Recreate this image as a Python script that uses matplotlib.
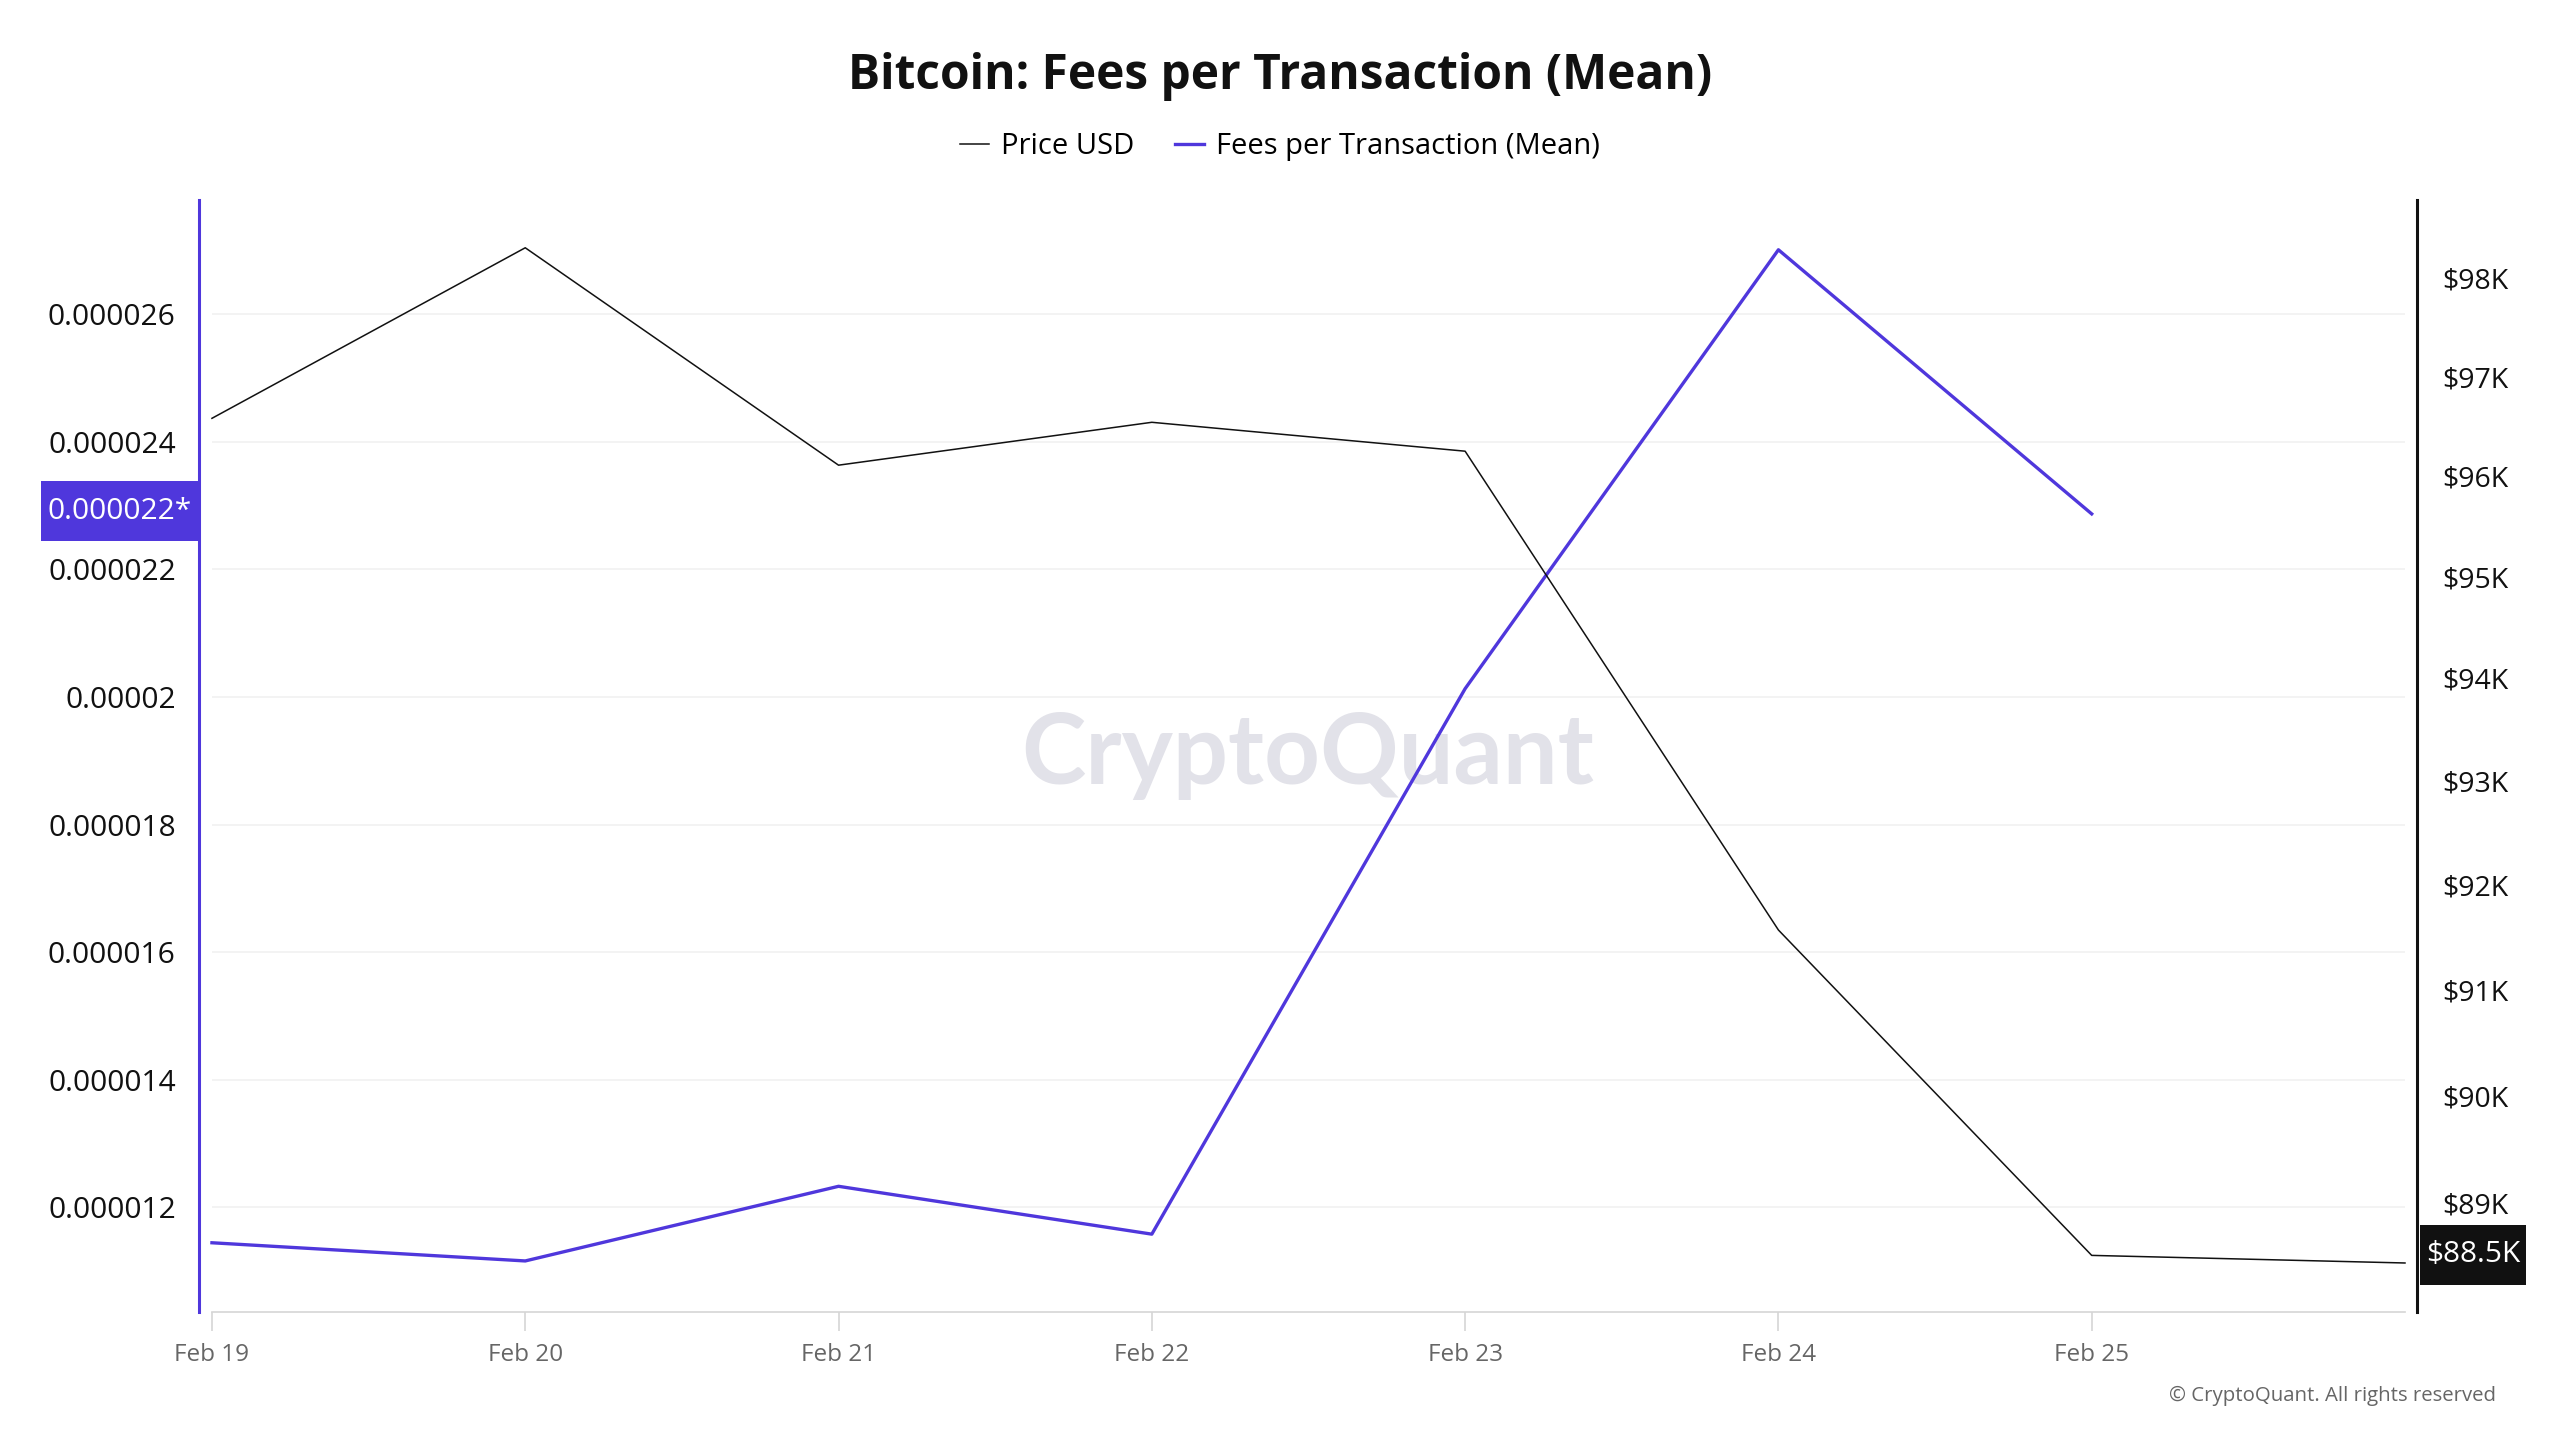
import numpy as np
import matplotlib
matplotlib.use("Agg")
import matplotlib.pyplot as plt
from matplotlib import ticker
from matplotlib.path import Path
from matplotlib.transforms import blended_transform_factory

# data
dates = ["Feb 19", "Feb 20", "Feb 21", "Feb 22", "Feb 23", "Feb 24", "Feb 25", "Feb 26"]
price_usd = [96580, 98310, 96110, 96540, 96250, 91570, 88520, 88450]
fees_mean = [11.445e-6, 11.16e-6, 12.33e-6, 11.58e-6, 20.13e-6, 27.01e-6, 22.87e-6]
fee_ticks = [0.000012, 0.000014, 0.000016, 0.000018, 0.00002, 0.000022, 0.000024, 0.000026]
price_ticks = [89000, 90000, 91000, 92000, 93000, 94000, 95000, 96000, 97000, 98000]
xtick_labels = ["Feb 19", "Feb 20", "Feb 21", "Feb 22", "Feb 23", "Feb 24", "Feb 25"]

purple = "#4f37dc"
plt.rcParams["font.family"] = ["Open Sans", "DejaVu Sans"]


def label_box(x0, y0, width, height, mutation_size):
    # rectangle with less padding on the sides than top/bottom
    px = 0.2 * mutation_size
    py = 0.52 * mutation_size
    x0, y0 = x0 - px, y0 - py
    x1, y1 = x0 + width + 2 * px, y0 + height + 2 * py
    return Path([(x0, y0), (x1, y0), (x1, y1), (x0, y1), (x0, y0)], closed=True)


fig = plt.figure(figsize=(25.6, 14.4), dpi=100)
ax = fig.add_axes([0.0779, 0.0889, 0.8662, 0.7722])
ax2 = ax.twinx()

x_price = np.arange(len(price_usd))
x_fees = np.arange(len(fees_mean))

# left axis: fees
ax.set_xlim(-0.04, len(dates) - 1 + 0.038)
ax.set_ylim(10.36e-6, 27.79e-6)
ax.set_yticks(fee_ticks)
ax.yaxis.set_major_formatter(ticker.FuncFormatter(lambda v, p: f"{v:.6f}".rstrip("0")))
ax.hlines(fee_ticks, 0, len(dates) - 1, color="#f1f1f1", lw=1.2, zorder=0)
ax.tick_params(axis="y", length=0, pad=17, labelsize=21.5, labelcolor="#111111")
ax.set_xticks(np.arange(len(xtick_labels)))
ax.set_xticklabels(xtick_labels)
ax.tick_params(axis="x", length=14, width=1.2, color="#d5d5d5", pad=8,
               labelsize=17.5, labelcolor="#666666")
for s in ["top", "right"]:
    ax.spines[s].set_visible(False)
ax.spines["left"].set_color(purple)
ax.spines["left"].set_linewidth(2.2)
ax.spines["bottom"].set_color("#d5d5d5")
ax.spines["bottom"].set_linewidth(1.2)
ax.spines["bottom"].set_bounds(0, len(dates) - 1)

ax.plot(x_fees, fees_mean, color=purple, lw=2.4, zorder=4, label="Fees per Transaction (Mean)")

# right axis: price (log)
ax2.set_yscale("log")
ax2.set_ylim(88000, 98800)
ax2.yaxis.set_major_locator(ticker.FixedLocator(price_ticks))
ax2.yaxis.set_minor_locator(ticker.NullLocator())
ax2.yaxis.set_major_formatter(ticker.FuncFormatter(lambda v, p: f"${v/1000:.0f}K"))
ax2.tick_params(axis="y", length=0, pad=18, labelsize=20.5, labelcolor="#111111")
for s in ["top", "left", "bottom"]:
    ax2.spines[s].set_visible(False)
ax2.spines["right"].set_color("#111111")
ax2.spines["right"].set_linewidth(2.2)
ax2.plot(x_price, price_usd, color="#111111", lw=1.1, zorder=3, label="Price USD")

# watermark
ax.text(0.5, 0.5, "CryptoQuant", transform=ax.transAxes, ha="center", va="center",
        fontsize=70, color="#e2e2e9", family=["Lato", "DejaVu Sans"], fontweight="bold", zorder=0)

# last value boxes
last_fee = np.floor(fees_mean[-1] * 1e6) / 1e6
tl = blended_transform_factory(ax.transAxes, ax.transData)
ax.annotate(f"{last_fee:.6f}*", xy=(-0.0035, fees_mean[-1]), xycoords=tl,
            xytext=(0, 2), textcoords="offset points", ha="right", va="center",
            fontsize=21.5, color="white", zorder=10, annotation_clip=False,
            bbox=dict(boxstyle=label_box, fc=purple, ec="none"))
tr = blended_transform_factory(ax2.transAxes, ax2.transData)
ax2.annotate(f"${price_usd[-1]/1000:.1f}K", xy=(1.004, price_usd[-1]), xycoords=tr,
             xytext=(0, 6), textcoords="offset points", ha="left", va="center",
             fontsize=21.5, color="white", zorder=10, annotation_clip=False,
             bbox=dict(boxstyle=label_box, fc="#111111", ec="none"))

# title, legend, footer
fig.text(0.5, 0.947, "Bitcoin: Fees per Transaction (Mean)", ha="center", va="center",
         fontsize=34.5, fontweight="bold", color="#111111")
h1, l1 = ax2.get_legend_handles_labels()
h2, l2 = ax.get_legend_handles_labels()
fig.legend(h1 + h2, l1 + l2, loc="center", bbox_to_anchor=(0.5, 0.898), ncol=2, frameon=False,
           fontsize=21, handlelength=1.0, handletextpad=0.4, columnspacing=1.4)
fig.text(0.975, 0.0305, "© CryptoQuant. All rights reserved", ha="right", va="center",
         fontsize=14.7, color="#666666")

fig.savefig("out.png", dpi=100, facecolor="white")
